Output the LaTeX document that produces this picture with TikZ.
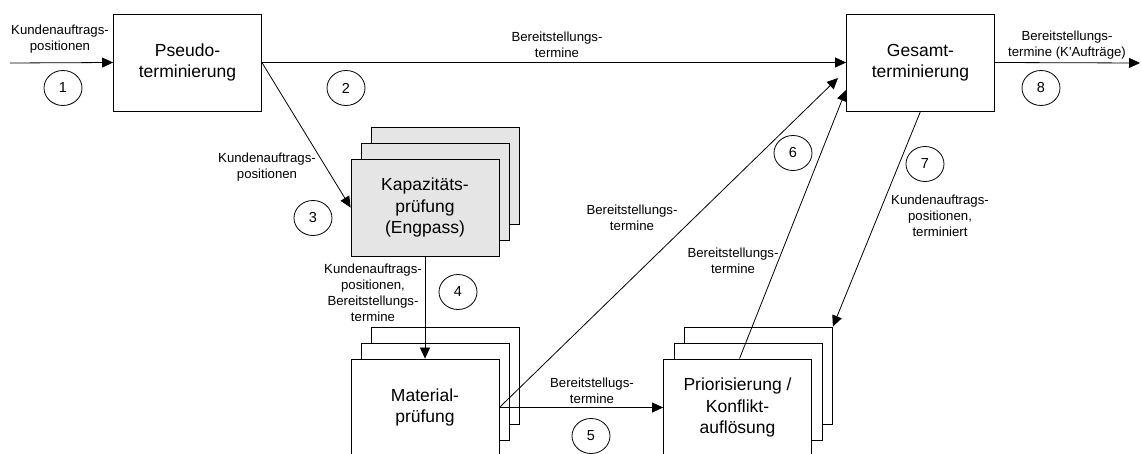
\documentclass[tikz,border=0pt]{standalone}
\usepackage{fontspec}
\setmainfont{Liberation Sans}
\usetikzlibrary{arrows.meta,shapes.geometric}

\begin{document}
\begin{tikzpicture}[x=1pt,y=-1pt,line width=0.8pt,
        procbox/.style={draw,fill=white,minimum width=148pt,minimum height=97pt,inner sep=0pt,align=center,font=\fontsize{17.5}{21.5}\selectfont},
        flow/.style={-{Triangle[length=11pt,width=10pt]}},
        flowlabel/.style={align=center,inner sep=0pt,font=\fontsize{13.2}{16}\selectfont},
        stepnum/.style={draw,ellipse,minimum width=38pt,minimum height=35pt,inner sep=0pt,font=\fontsize{14.5}{16}\selectfont}]
        \useasboundingbox (0,0) rectangle (1141,454);

        % Process boxes (stacked ones drawn back to front)
        \node[procbox] (pseudo) at (187.5,62.5) {Pseudo-\\terminierung};
        \node[procbox] (gesamt) at (920.5,62.5) {Gesamt-\\terminierung};
        \node[procbox,fill=black!10] (kap3) at (445,175.5) {};
        \node[procbox,fill=black!10] (kap2) at (435,191.5) {};
        \node[procbox,fill=black!10] (kap) at (425,207.5) {Kapazitäts-\\prüfung\\(Engpass)};
        \node[procbox] (mat3) at (445,375.5) {};
        \node[procbox] (mat2) at (435,391.5) {};
        \node[procbox] (mat) at (425,407.5) {Material-\\prüfung};
        \node[procbox] (prio3) at (758.5,375.5) {};
        \node[procbox] (prio2) at (748,391.5) {};
        \node[procbox] (prio) at (737.5,407.5) {Priorisierung /\\Konflikt-\\auflösung};

        % Free ends of connectors
        \coordinate (in) at (10,63);
        \coordinate (out) at (1140,63);
        \coordinate (gesamtin6a) at (838,78);
        \coordinate (gesamtin6b) at (846,90);

        % Connectors
        \draw[flow] (in) -- (pseudo.west);
        \draw[flow] (pseudo.east) -- (gesamt.west);
        \draw[flow] (pseudo.east) -- (kap.west);
        \draw[flow] (kap.south) -- (mat.north);
        \draw[flow] (mat.east) -- (prio.west);
        \draw[flow] (mat.east) -- (gesamtin6a);
        \draw[flow] ([xshift=2pt]prio.north) -- (gesamtin6b);
        \draw[flow] (gesamt.south) -- (prio3.north east);
        \draw[flow] (gesamt.east) -- (out);

        % Connector labels
        \node[flowlabel] (lab1) at (60,39) {Kundenauftrags-\\positionen};
        \node[flowlabel] (lab2) at (557,45) {Bereitstellungs-\\termine};
        \node[flowlabel] (lab3) at (267,167) {Kundenauftrags-\\positionen};
        \node[flowlabel] (lab4) at (373,293) {Kundenauftrags-\\positionen,\\Bereitstellungs-\\termine};
        \node[flowlabel] (lab5) at (592,391) {Bereitstellugs-\\termine};
        \node[flowlabel] (lab6a) at (632,218) {Bereitstellungs-\\termine};
        \node[flowlabel] (lab6b) at (733,261) {Bereitstellungs-\\termine};
        \node[flowlabel] (lab7) at (940,216) {Kundenauftrags-\\positionen,\\terminiert};
        \node[flowlabel] (lab8) at (1067,45) {Bereitstellungs-\\termine (K\textquotesingle Aufträge)};

        % Step numbers
        \node[stepnum] (num1) at (63,88) {1};
        \node[stepnum] (num2) at (346,88) {2};
        \node[stepnum] (num3) at (313,218) {3};
        \node[stepnum] (num4) at (458,292) {4};
        \node[stepnum] (num5) at (591,436) {5};
        \node[stepnum] (num6) at (793,153) {6};
        \node[stepnum] (num7) at (925,164) {7};
        \node[stepnum] (num8) at (1041,88) {8};
    \end{tikzpicture}
\end{document}
